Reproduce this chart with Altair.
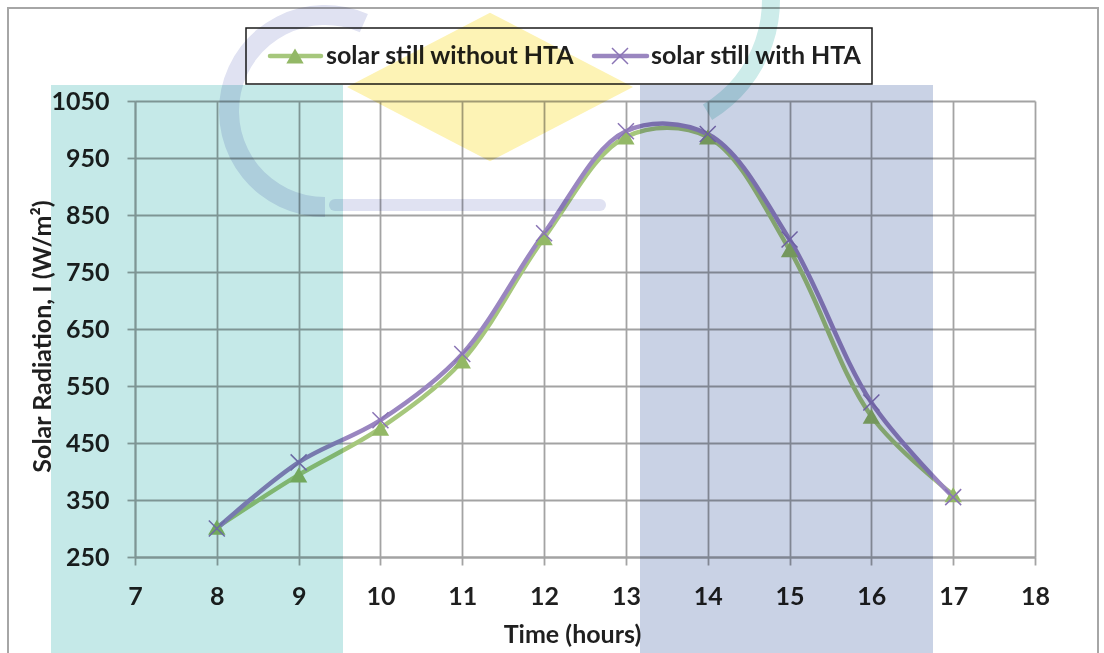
import altair as alt
import pandas as pd

# ---------------- data ----------------
hours = [8, 9, 10, 11, 12, 13, 14, 15, 16, 17]
without_hta = [302, 394, 476, 594, 810, 987, 987, 789, 497, 359]
with_hta = [300, 416, 490, 606, 818, 997, 992, 807, 521, 355]
series_names = ["solar still without HTA", "solar still with HTA"]
x_ticks = list(range(7, 19))
y_ticks = list(range(250, 1051, 100))

df = pd.DataFrame({
    "hour": hours * 2,
    "value": without_hta + with_hta,
    "series": [series_names[0]] * len(hours) + [series_names[1]] * len(hours),
})

FONT = "Lato"
FS = 25
W, H = 900, 456
GRID = "#a3a3a3"
TXT = "#1f1f1f"
GREEN_LINE = "#a6c77c"
GREEN_MARK = "#93b866"
PURPLE_LINE = "#9a86c0"
PURPLE_MARK = "#8a74b5"

one = pd.DataFrame({"a": [0]})

x_enc = alt.X(
    "hour:Q",
    scale=alt.Scale(domain=[7, 18], nice=False, zero=False),
    axis=alt.Axis(values=x_ticks, format="d", title="Time (hours)",
                  labelFlush=False, labelOverlap=False, labelPadding=19,
                  titleX=437, titleY=77, titleBaseline="middle"),
)
y_enc = alt.Y(
    "value:Q",
    scale=alt.Scale(domain=[250, 1050], nice=False, zero=False),
    axis=alt.Axis(values=y_ticks, format="d", title="Solar Radiation, I (W/m²)",
                  labelFlush=False, labelOverlap=False, labelPadding=18,
                  titleAngle=270, titleX=-93, titleY=235,
                  titleAlign="center", titleBaseline="middle"),
)

lines = alt.Chart(df).mark_line(interpolate="catmull-rom", strokeWidth=4.5).encode(
    x=x_enc, y=y_enc,
    color=alt.Color("series:N", scale=alt.Scale(domain=series_names,
                                                range=[GREEN_LINE, PURPLE_LINE]),
                    legend=None),
    order=alt.Order("hour:Q"),
)

tri = alt.Chart(df).transform_filter(
    alt.datum.series == series_names[0]
).mark_point(shape="triangle-up", filled=True, size=300, color=GREEN_MARK, opacity=1).encode(
    x=x_enc, y=y_enc)

cross = alt.Chart(df).transform_filter(
    alt.datum.series == series_names[1]
).mark_point(shape="M-1,-1L1,1M1,-1L-1,1", filled=False, size=256, strokeWidth=1.5,
             color=PURPLE_MARK, opacity=1).encode(x=x_enc, y=y_enc)

# ---------------- frame ----------------
frame = alt.Chart(one).mark_rect(fill=None, stroke="#a6a6a6", strokeWidth=2).encode(
    x=alt.value(-127), x2=alt.value(963), y=alt.value(-93), y2=alt.value(620))

# ---------------- legend ----------------
leg_box = alt.Chart(one).mark_rect(fill="white", stroke="#1a1a1a", strokeWidth=1.5).encode(
    x=alt.value(111), x2=alt.value(737), y=alt.value(-73), y2=alt.value(-17))
leg_l1 = alt.Chart(one).mark_rule(color=GREEN_LINE, strokeWidth=4.5, strokeCap="round").encode(
    x=alt.value(135), x2=alt.value(186), y=alt.value(-45))
leg_m1 = alt.Chart(one).mark_point(shape="triangle-up", filled=True, size=300,
                                   color=GREEN_MARK, opacity=1).encode(
    x=alt.value(160), y=alt.value(-45))
leg_t1 = alt.Chart(one).mark_text(align="left", baseline="middle", font=FONT, fontSize=FS,
                                  fontWeight="bold", color=TXT).encode(
    x=alt.value(191), y=alt.value(-45), text=alt.value(series_names[0]))
leg_l2 = alt.Chart(one).mark_rule(color=PURPLE_LINE, strokeWidth=4.5, strokeCap="round").encode(
    x=alt.value(459), x2=alt.value(512), y=alt.value(-45))
leg_m2 = alt.Chart(one).mark_point(shape="M-1,-1L1,1M1,-1L-1,1", filled=False, size=256,
                                   strokeWidth=1.5, color=PURPLE_MARK, opacity=1).encode(
    x=alt.value(485), y=alt.value(-45))
leg_t2 = alt.Chart(one).mark_text(align="left", baseline="middle", font=FONT, fontSize=FS,
                                  fontWeight="bold", color=TXT).encode(
    x=alt.value(516), y=alt.value(-45), text=alt.value(series_names[1]))

# ---------------- watermark (multiply) ----------------
wm_teal = alt.Chart(one).mark_rect(color="#c5e9e8", blend="multiply").encode(
    x=alt.value(-84), x2=alt.value(208), y=alt.value(-16), y2=alt.value(560))
wm_blue = alt.Chart(one).mark_rect(color="#c9d2e5", blend="multiply").encode(
    x=alt.value(505), x2=alt.value(798), y=alt.value(-16), y2=alt.value(560))
wm_diamond = alt.Chart(one).mark_point(shape="M0,-0.52L1,0L0,0.52L-1,0Z", filled=True,
                                       size=81796, color="#fdf3b5", opacity=1,
                                       blend="multiply").encode(
    x=alt.value(355), y=alt.value(-14))
wm_c = alt.Chart(one).mark_arc(theta=3.14159, theta2=6.7, innerRadius=86, outerRadius=106,
                               color="#e0e2f2", blend="multiply").encode(
    x=alt.value(190), y=alt.value(10))
wm_tail = alt.Chart(one).mark_rule(color="#e0e2f2", strokeWidth=12, strokeCap="round",
                                   blend="multiply").encode(
    x=alt.value(200), x2=alt.value(465), y=alt.value(104))
wm_swoosh = alt.Chart(one).mark_arc(theta=1.2, theta2=2.6, innerRadius=122, outerRadius=140,
                                    color="#cdecea", blend="multiply").encode(
    x=alt.value(505), y=alt.value(-101))

chart = alt.layer(
    frame, lines, tri, cross,
    leg_box, leg_l1, leg_m1, leg_t1, leg_l2, leg_m2, leg_t2,
    wm_teal, wm_blue, wm_diamond, wm_c, wm_tail, wm_swoosh,
).properties(
    width=W, height=H,
    autosize=alt.AutoSizeParams(type="none"),
    padding={"left": 135, "top": 101, "right": 69, "bottom": 96},
    background="white",
).configure_view(stroke=None).configure_axis(
    labelFont=FONT, labelFontSize=FS, labelFontWeight="bold", labelColor=TXT,
    titleFont=FONT, titleFontSize=FS, titleFontWeight="bold", titleColor=TXT,
    gridColor=GRID, gridWidth=1.8, gridOpacity=1,
    domainColor=GRID, domainWidth=1.8,
    tickColor=GRID, tickWidth=1.8, tickSize=8,
)

chart.save("out.html", embed_options={"renderer": "svg", "actions": False})
